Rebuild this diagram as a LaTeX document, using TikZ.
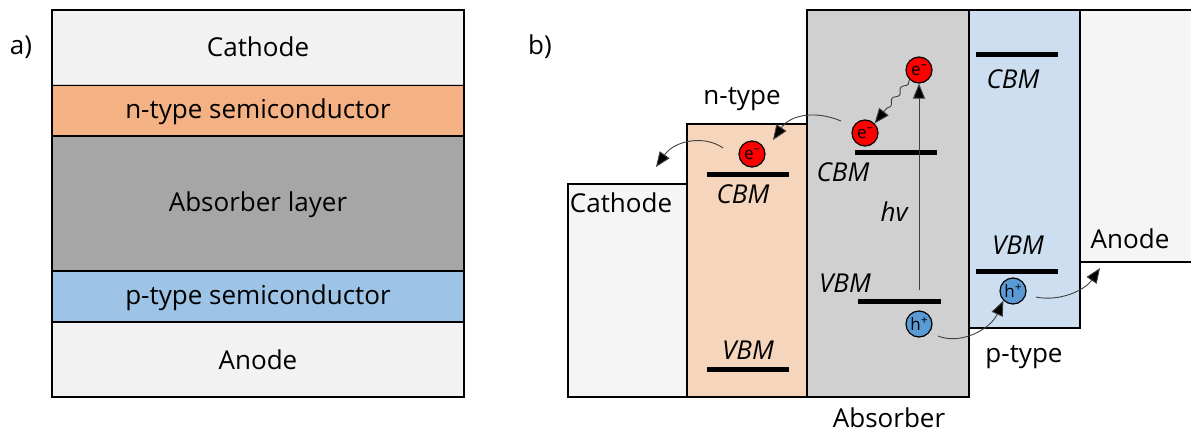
\documentclass[tikz,border=0pt]{standalone}
\usepackage{fontspec}
\setmainfont{Open Sans}
\usetikzlibrary{arrows.meta,decorations.pathmorphing}
\definecolor{lgray}{HTML}{F2F2F2}
\definecolor{bgray}{HTML}{F5F5F5}
\definecolor{orng}{HTML}{F4B183}
\definecolor{peach}{HTML}{F6D5BD}
\definecolor{dgray}{HTML}{A6A6A6}
\definecolor{mgray}{HTML}{D0D0D0}
\definecolor{pblue}{HTML}{9DC3E6}
\definecolor{lblue}{HTML}{CCDEEF}
\definecolor{eblue}{HTML}{5B9BD5}
\newcommand{\supm}{\raisebox{0.42em}{\fontsize{12}{12}\selectfont –}}
\newcommand{\supp}{\raisebox{0.38em}{\fontsize{12}{12}\selectfont +}}
\tikzset{
  layer/.style={draw=black, line width=1.5pt},
  txt/.style={font=\fontsize{26}{30}\selectfont, inner sep=0pt},
  lvl/.style={font=\fontsize{26}{30}\selectfont\itshape, inner sep=0pt},
  bar/.style={line width=5pt},
  elec/.style={circle, draw=black, line width=1.2pt, fill=red, minimum size=26pt, inner sep=0pt, font=\fontsize{17}{17}\selectfont},
  hole/.style={circle, draw=black, line width=1.2pt, fill=eblue, minimum size=26pt, inner sep=0pt, font=\fontsize{17}{17}\selectfont},
  flow/.style={-{Triangle[length=15pt,width=12pt,fill=black]}, line width=0.9pt, draw=black!75},
}
\begin{document}
\begin{tikzpicture}[x=1pt,y=-1pt]
\useasboundingbox (0,0) rectangle (1191,432);
% ---------- panel a
\node[txt] (la) at (21,47) {a)};
\fill[lgray] (52,10) rectangle (464,85);
\fill[orng] (52,85) rectangle (464,136);
\fill[dgray] (52,136) rectangle (464,271);
\fill[pblue] (52,271) rectangle (464,322);
\fill[lgray] (52,322) rectangle (464,397);
\draw[line width=1.2pt] (52,85) -- (464,85) (52,136) -- (464,136) (52,271) -- (464,271) (52,322) -- (464,322);
\draw[line width=0.8pt, black!20] (52,84) -- (464,84);
\draw[layer] (52,10) rectangle (464,397);
\node[txt] (a1) at (258,47) {Cathode};
\node[txt] (a2) at (258,112) {n-type semiconductor};
\node[txt] (a3) at (258,205) {Absorber layer};
\node[txt] (a4) at (258,298) {p-type semiconductor};
\node[txt] (a5) at (258,360) {Anode};
% ---------- panel b
\node[txt] (lb) at (540,47) {b)};
\draw[layer, fill=bgray] (1080,10) -- (1195,10) -- (1195,262) -- (1080,262);
\draw[layer, fill=bgray] (568,184) rectangle (687,397);
\draw[layer, fill=peach] (687,124) rectangle (807,397);
\draw[layer, fill=mgray] (807,10) rectangle (969,397);
\draw[layer, fill=lblue] (969,10) rectangle (1080,328);
% levels
\draw[bar] (707,174) -- (789,174);
\draw[bar] (707,369) -- (789,369);
\draw[bar] (855,152) -- (937,152);
\draw[bar] (858,301) -- (941,301);
\draw[bar] (976,54) -- (1058,54);
\draw[bar] (976,271) -- (1058,271);
\node[lvl] (c1) at (743,194) {CBM};
\node[lvl] (v1) at (748,350) {VBM};
\node[lvl] (c2) at (843,172) {CBM};
\node[lvl] (v2) at (845,283) {VBM};
\node[lvl] (c3) at (1013,79) {CBM};
\node[lvl] (v3) at (1018,245) {VBM};
% labels
\node[txt] (nt) at (742,99) {n-type};
\node[txt] (ca) at (621,203) {Cathode};
\node[txt] (an) at (1130,239) {Anode};
\node[txt] (pt) at (1024,357) {p-type};
\node[txt] (ab) at (889,418) {Absorber};
\node[lvl] (hv) at (894,212) {hv};
% carriers
\node[elec] (e1) at (919,70) {e\supm};
\node[elec] (e2) at (865,133) {e\supm};
\node[elec] (e3) at (752,154) {e\supm};
\node[hole] (h1) at (919,324) {h\supp};
\node[hole] (h2) at (1013,291) {h\supp};
\coordinate (hvs) at (919,290);
\coordinate (ce) at (656,167);
\coordinate (ne) at (773,140);
\coordinate (ae) at (1100,268);
% arrows
\draw[flow] (hvs) -- (e1.south);
\draw[flow, decorate, decoration={snake, amplitude=2pt, segment length=14pt, post length=14pt}] (e1.south west) -- (e2.north east);
\draw[flow] ([shift={(-24,-12)}]e2.center) .. controls (815,110) and (790,115) .. (ne);
\draw[flow] ([shift={(-29,-6)}]e3.center) .. controls (705,135) and (675,140) .. (ce);
\draw[flow] ([shift={(19,12)}]h1.center) .. controls (960,345) and (990,330) .. (h2.south west);
\draw[flow] ([shift={(23,6)}]h2.center) .. controls (1060,302) and (1085,290) .. (ae);
\end{tikzpicture}
\end{document}
